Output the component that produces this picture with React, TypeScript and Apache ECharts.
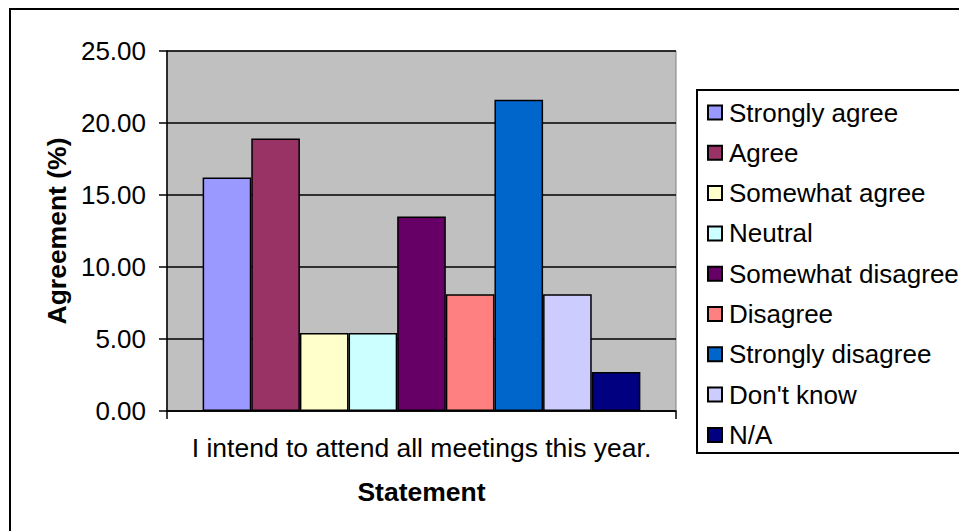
import React, { useEffect, useRef } from "react";
import * as echarts from "echarts";

const categories = ["I intend to attend all meetings this year."];
const seriesNames = [
  "Strongly agree",
  "Agree",
  "Somewhat agree",
  "Neutral",
  "Somewhat disagree",
  "Disagree",
  "Strongly disagree",
  "Don't know",
  "N/A",
];
const seriesValues = [16.22, 18.92, 5.41, 5.41, 13.51, 8.11, 21.62, 8.11, 2.7];
const seriesColors = [
  "#9999FF",
  "#993366",
  "#FFFFCC",
  "#CCFFFF",
  "#660066",
  "#FF8080",
  "#0066CC",
  "#CCCCFF",
  "#000080",
];
const yTicks = { min: 0, max: 25, interval: 5 };

const FONT = "'Liberation Sans', Arial, sans-serif";

export default function App() {
  const ref = useRef<HTMLDivElement>(null);
  useEffect(() => {
    if (!ref.current) return;
    const chart = echarts.init(ref.current, null, { renderer: "svg" });
    chart.setOption({
      animation: false,
      backgroundColor: "#ffffff",
      textStyle: { fontFamily: FONT, color: "#000" },
      graphic: [
        {
          type: "rect",
          z: 0,
          shape: { x: 10, y: 9, width: 1000, height: 600 },
          style: { fill: "none", stroke: "#000", lineWidth: 2 },
        },
        {
          type: "rect",
          z: 1,
          shape: { x: 697, y: 90, width: 400, height: 363 },
          style: { fill: "#fff", stroke: "#000", lineWidth: 2 },
        },
      ],
      grid: {
        left: 167,
        right: 959 - 676,
        top: 51,
        bottom: 531 - 411,
        show: true,
        backgroundColor: "#C0C0C0",
        borderColor: "#808080",
        borderWidth: 1,
        containLabel: false,
      },
      legend: {
        orient: "vertical",
        left: 707,
        top: 99,
        padding: 0,
        itemWidth: 14,
        itemHeight: 14,
        itemGap: 13.3,
        icon: "rect",
        textStyle: {
          fontFamily: FONT,
          fontSize: 26,
          color: "#000",
          lineHeight: 27,
          padding: [0, 0, 0, 2],
        },
        data: seriesNames,
      },
      xAxis: {
        type: "category",
        data: categories,
        name: "Statement",
        nameLocation: "middle",
        nameGap: 67,
        nameTextStyle: { fontFamily: FONT, fontSize: 26.5, fontWeight: "bold", color: "#000" },
        axisLine: { show: true, lineStyle: { color: "#000", width: 1.5 } },
        axisTick: { show: true, length: 8, lineStyle: { color: "#000", width: 1.5 } },
        axisLabel: { fontFamily: FONT, fontSize: 26.5, color: "#000", margin: 23 },
        splitLine: { show: false },
      },
      yAxis: {
        type: "value",
        min: yTicks.min,
        max: yTicks.max,
        interval: yTicks.interval,
        name: "Agreement (%)",
        nameLocation: "middle",
        nameRotate: 90,
        nameGap: 96,
        nameTextStyle: { fontFamily: FONT, fontSize: 26.5, fontWeight: "bold", color: "#000" },
        axisLine: { show: true, lineStyle: { color: "#000", width: 1.5 } },
        axisTick: { show: true, length: 8, lineStyle: { color: "#000", width: 1.5 } },
        axisLabel: {
          fontFamily: FONT,
          fontSize: 26,
          color: "#000",
          margin: 21,
          formatter: (v: number) => v.toFixed(2),
        },
        splitLine: { show: true, lineStyle: { color: "#000", width: 1.5 } },
      },
      series: seriesNames.map((name, i) => ({
        name,
        type: "bar",
        data: [seriesValues[i]],
        barGap: "0%",
        barCategoryGap: "14%",
        itemStyle: { color: seriesColors[i], borderColor: "#000", borderWidth: 1.5 },
      })),
    });
    return () => chart.dispose();
  }, []);
  return (
    <div
      ref={ref}
      style={{ position: "fixed", left: 0, top: 0, width: 959, height: 531 }}
    />
  );
}
